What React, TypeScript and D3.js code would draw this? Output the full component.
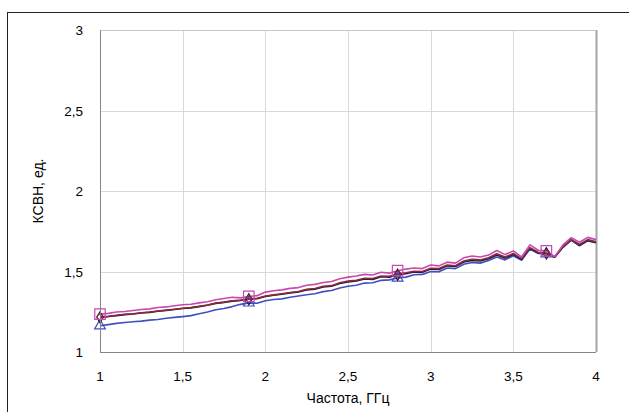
import * as d3 from "d3";
import { useEffect, useRef } from "react";

// frequency, GHz (step 0.05)
const freq = d3.range(0, 61).map((i) => +(1 + i * 0.05).toFixed(2));

const magenta = [
  1.235, 1.24, 1.248, 1.252, 1.258, 1.264, 1.268, 1.276, 1.28, 1.287,
  1.293, 1.297, 1.305, 1.312, 1.325, 1.332, 1.34, 1.336, 1.345, 1.35,
  1.372, 1.38, 1.386, 1.395, 1.4, 1.415, 1.42, 1.432, 1.438, 1.455,
  1.465, 1.472, 1.482, 1.478, 1.495, 1.49, 1.505, 1.515, 1.522, 1.518,
  1.54, 1.535, 1.558, 1.552, 1.585, 1.596, 1.59, 1.602, 1.63, 1.605,
  1.628, 1.59, 1.665, 1.632, 1.628, 1.592, 1.665, 1.71, 1.682, 1.712,
  1.698,
];

const darkRed = [
  1.218, 1.222, 1.228, 1.234, 1.238, 1.244, 1.248, 1.255, 1.26, 1.266,
  1.272, 1.276, 1.284, 1.292, 1.304, 1.31, 1.318, 1.322, 1.33, 1.334,
  1.348, 1.355, 1.362, 1.37, 1.376, 1.39, 1.394, 1.408, 1.412, 1.43,
  1.44, 1.446, 1.458, 1.456, 1.472, 1.47, 1.485, 1.492, 1.502, 1.5,
  1.52, 1.518, 1.54, 1.536, 1.565, 1.576, 1.572, 1.586, 1.61, 1.59,
  1.612, 1.58, 1.648, 1.62, 1.615, 1.59, 1.655, 1.698, 1.668, 1.698,
  1.684,
];

const black = [
  1.216, 1.22, 1.226, 1.232, 1.236, 1.242, 1.246, 1.253, 1.258, 1.264,
  1.27, 1.274, 1.282, 1.29, 1.302, 1.308, 1.316, 1.32, 1.328, 1.331,
  1.345, 1.352, 1.359, 1.367, 1.373, 1.386, 1.39, 1.404, 1.408, 1.425,
  1.435, 1.441, 1.453, 1.451, 1.467, 1.465, 1.48, 1.487, 1.497, 1.495,
  1.515, 1.513, 1.535, 1.531, 1.559, 1.569, 1.565, 1.579, 1.602, 1.583,
  1.605, 1.576, 1.644, 1.616, 1.612, 1.589, 1.652, 1.696, 1.663, 1.693,
  1.68,
];

const blue = [
  1.163, 1.17, 1.178, 1.183, 1.188, 1.192, 1.198, 1.202, 1.21, 1.215,
  1.22, 1.226, 1.238, 1.248, 1.262, 1.27, 1.282, 1.296, 1.305, 1.303,
  1.318, 1.326, 1.33, 1.34, 1.348, 1.356, 1.362, 1.375, 1.382, 1.398,
  1.408, 1.415, 1.428, 1.43, 1.445, 1.448, 1.46, 1.465, 1.48, 1.482,
  1.5, 1.498, 1.522, 1.518, 1.545, 1.556, 1.552, 1.568, 1.59, 1.572,
  1.598, 1.57, 1.64, 1.612, 1.61, 1.588, 1.65, 1.695, 1.66, 1.69,
  1.678,
];

const markerFreq = [1, 1.9, 2.8, 3.7];
const xTicks = [1, 1.5, 2, 2.5, 3, 3.5, 4];
const yTicks = [1, 1.5, 2, 2.5, 3];

const series = [
  { name: "blue", values: blue, color: "#3f4fc2", marker: "triangle" },
  { name: "black", values: black, color: "#1c1c3a", marker: "diamond" },
  { name: "darkRed", values: darkRed, color: "#8a2a38", marker: "circle" },
  { name: "magenta", values: magenta, color: "#c848b0", marker: "square" },
];

const fmt = (v: number) => String(v).replace(".", ",");

const App = () => {
  const svgRef = useRef<SVGSVGElement | null>(null);

  useEffect(() => {
    const width = 629;
    const height = 412;
    const margin = { top: 30, right: 33, bottom: 60, left: 100 };
    const innerW = width - margin.left - margin.right;
    const innerH = height - margin.top - margin.bottom;

    const root = d3.select(svgRef.current);
    root.selectAll("*").remove();
    root.attr("width", width).attr("height", height);

    root
      .append("rect")
      .attr("width", width)
      .attr("height", height)
      .attr("fill", "#fff");

    // outer chart frame
    root
      .append("rect")
      .attr("x", 7.5)
      .attr("y", 12.5)
      .attr("width", 700)
      .attr("height", 500)
      .attr("fill", "none")
      .attr("stroke", "#222")
      .attr("stroke-width", 1);

    const svg = root
      .append("g")
      .attr("transform", `translate(${margin.left},${margin.top})`);

    const x = d3.scaleLinear().domain([1, 4]).range([0, innerW]);
    const y = d3.scaleLinear().domain([1, 3]).range([innerH, 0]);

    // grid
    svg
      .append("g")
      .selectAll("line")
      .data(xTicks.slice(1, -1))
      .join("line")
      .attr("x1", (d) => Math.round(x(d)) + 0.5)
      .attr("x2", (d) => Math.round(x(d)) + 0.5)
      .attr("y1", 0)
      .attr("y2", innerH)
      .attr("stroke", "#d9d9d9");
    svg
      .append("g")
      .selectAll("line")
      .data(yTicks.slice(1))
      .join("line")
      .attr("x1", 0)
      .attr("x2", innerW)
      .attr("y1", (d) => Math.round(y(d)) + 0.5)
      .attr("y2", (d) => Math.round(y(d)) + 0.5)
      .attr("stroke", "#d9d9d9");

    // plot frame
    svg
      .append("line")
      .attr("x1", innerW + 0.5)
      .attr("x2", innerW + 0.5)
      .attr("y1", 0)
      .attr("y2", innerH)
      .attr("stroke", "#a6a6a6")
      .attr("stroke-width", 2);
    svg
      .append("line")
      .attr("x1", 0)
      .attr("x2", innerW)
      .attr("y1", 0.5)
      .attr("y2", 0.5)
      .attr("stroke", "#c8c8c8");

    const line = d3
      .line<number>()
      .x((_, i) => x(freq[i]))
      .y((d) => y(d));

    series.forEach((s) => {
      svg
        .append("path")
        .datum(s.values)
        .attr("fill", "none")
        .attr("stroke", s.color)
        .attr("stroke-width", 1.6)
        .attr("stroke-linejoin", "round")
        .attr("d", line);
    });

    // markers
    const symbolType: Record<string, d3.SymbolType> = {
      triangle: d3.symbolTriangle,
      diamond: d3.symbolDiamond,
      circle: d3.symbolCircle,
      square: d3.symbolSquare,
    };
    const symbolSize: Record<string, number> = {
      triangle: 50,
      diamond: 35,
      circle: 25,
      square: 110,
    };
    series.forEach((s) => {
      svg
        .append("g")
        .selectAll("path")
        .data(markerFreq)
        .join("path")
        .attr("transform", (f) => {
          const i = freq.indexOf(f);
          return `translate(${x(f)},${y(s.values[i])})`;
        })
        .attr("d", d3.symbol().type(symbolType[s.marker]).size(symbolSize[s.marker])())
        .attr("fill", "none")
        .attr("stroke", s.color)
        .attr("stroke-width", 1.2);
    });

    // axes lines
    svg
      .append("line")
      .attr("x1", 0.5)
      .attr("x2", 0.5)
      .attr("y1", 0)
      .attr("y2", innerH)
      .attr("stroke", "#868686");
    svg
      .append("line")
      .attr("x1", 0)
      .attr("x2", innerW)
      .attr("y1", innerH + 0.5)
      .attr("y2", innerH + 0.5)
      .attr("stroke", "#868686");

    const font = "Liberation Sans, Arial, sans-serif";

    svg
      .append("g")
      .selectAll("text")
      .data(xTicks)
      .join("text")
      .attr("x", (d) => x(d))
      .attr("y", innerH + 29)
      .attr("text-anchor", "middle")
      .attr("font-family", font)
      .attr("font-size", 13.5)
      .attr("fill", "#000")
      .text(fmt);

    svg
      .append("g")
      .selectAll("text")
      .data(yTicks)
      .join("text")
      .attr("x", -17)
      .attr("y", (d) => y(d) + 5)
      .attr("text-anchor", "end")
      .attr("font-family", font)
      .attr("font-size", 13.5)
      .attr("fill", "#000")
      .text(fmt);

    svg
      .append("text")
      .attr("x", innerW / 2)
      .attr("y", innerH + 51)
      .attr("text-anchor", "middle")
      .attr("font-family", font)
      .attr("font-size", 14)
      .text("Частота, ГГц");

    svg
      .append("text")
      .attr("transform", `translate(${-57},${innerH / 2}) rotate(-90)`)
      .attr("text-anchor", "middle")
      .attr("font-family", font)
      .attr("font-size", 14)
      .text("КСВН, ед.");
  }, []);

  return (
    <svg
      ref={svgRef}
      style={{ position: "absolute", left: 0, top: 0, display: "block" }}
    />
  );
};

export default App;
